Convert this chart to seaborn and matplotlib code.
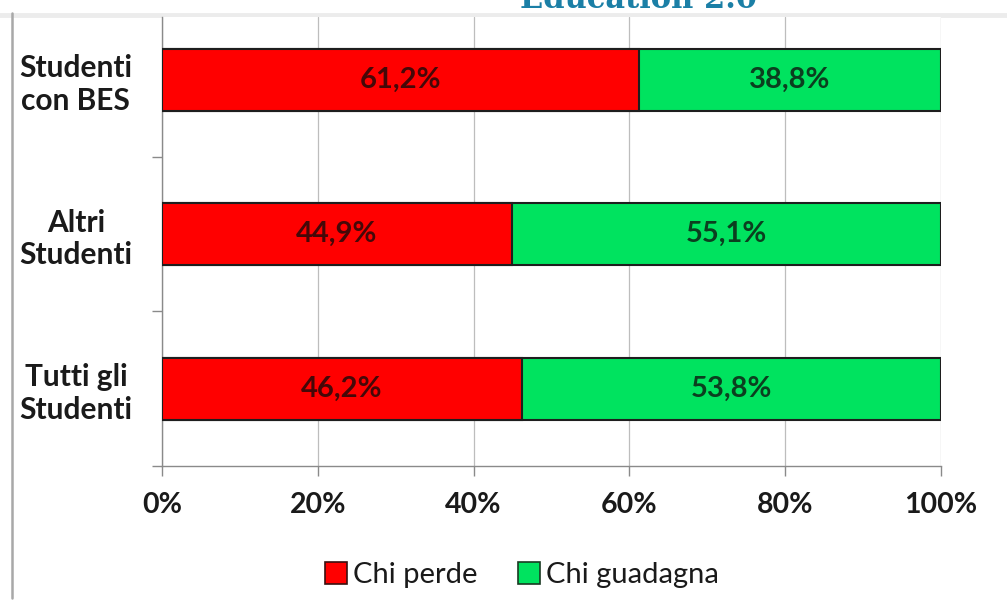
import matplotlib
matplotlib.use("Agg")
import matplotlib.pyplot as plt
import seaborn as sns
import pandas as pd
from matplotlib.patches import Patch
from matplotlib.lines import Line2D

# data
categories = ["Studenti\ncon BES", "Altri\nStudenti", "Tutti gli\nStudenti"]
chi_perde = [61.2, 44.9, 46.2]
chi_guadagna = [38.8, 55.1, 53.8]
xticks = [0, 20, 40, 60, 80, 100]
series_names = ["Chi perde", "Chi guadagna"]

red = "#ff0000"
green = "#00e35f"

df = pd.DataFrame({"gruppo": categories, "perde": chi_perde, "guadagna": chi_guadagna})
df["totale"] = df["perde"] + df["guadagna"]

sns.set_theme(style="white")
plt.rcParams["font.family"] = ["Lato", "DejaVu Sans"]

fig = plt.figure(figsize=(10.07, 6.01), dpi=100)
ax = fig.add_axes([162 / 1007, 1 - 466 / 601, 779 / 1007, 449 / 601])

# stacked bars: full bar in green, "perde" part on top in red
sns.barplot(data=df, y="gruppo", x="totale", color=green, saturation=1, width=0.4,
            edgecolor="#1e1e1e", linewidth=1.5, errorbar=None, ax=ax, zorder=3)
sns.barplot(data=df, y="gruppo", x="perde", color=red, saturation=1, width=0.4,
            edgecolor="#1e1e1e", linewidth=1.5, errorbar=None, ax=ax, zorder=3)

for i, (p, g) in enumerate(zip(chi_perde, chi_guadagna)):
    ax.text(p / 2, i, f"{p:.1f}%".replace(".", ","), ha="center", va="center",
            fontsize=21, fontweight="bold", color="#450808", zorder=4)
    ax.text(p + g / 2, i, f"{g:.1f}%".replace(".", ","), ha="center", va="center",
            fontsize=21, fontweight="bold", color="#0b3f1f", zorder=4)

ax.set_xlim(0, 100)
ax.set_ylim(2.5, -0.406)
ax.set_xticks(xticks)
ax.set_xticklabels([f"{t}%" for t in xticks])
ax.set_xlabel("")
ax.set_ylabel("")

# y tick labels centered, ticks at category boundaries
ax.set_yticks([0, 1, 2])
ax.set_yticklabels(categories, ha="center", multialignment="center")
ax.set_yticks([0.5, 1.5, 2.5], minor=True)
ax.tick_params(axis="y", which="major", length=0, pad=62, labelsize=21.5)
ax.tick_params(axis="y", which="minor", left=True, length=7, width=1, color="#8a8a8a", direction="out")
ax.tick_params(axis="x", which="major", bottom=True, length=7, width=1, color="#8a8a8a",
               direction="out", pad=12, labelsize=20.5)
for lab in ax.get_yticklabels() + ax.get_xticklabels():
    lab.set_fontweight("bold")
    lab.set_color("#1a1a1a")

ax.grid(axis="x", color="#bdbdbd", linewidth=0.9, zorder=0)
ax.grid(axis="y", visible=False)
ax.set_axisbelow(True)
for side in ["top", "right"]:
    ax.spines[side].set_visible(False)
for side in ["left", "bottom"]:
    ax.spines[side].set_color("#8a8a8a")
    ax.spines[side].set_linewidth(1)

handles = [Patch(facecolor=red, edgecolor="#3a1010", linewidth=1.2),
           Patch(facecolor=green, edgecolor="#1a3a22", linewidth=1.2)]
leg = fig.legend(handles, series_names, loc="center", bbox_to_anchor=(522 / 1007, 1 - 575 / 601),
                 ncol=2, frameon=False, fontsize=21, handlelength=0.75, handleheight=0.75,
                 handletextpad=0.2, columnspacing=1.4)
for t in leg.get_texts():
    t.set_color("#1a1a1a")

# page frame bits visible in the screenshot
fig.add_artist(Line2D([0, 1], [1 - 15 / 601] * 2, color="#ececec", linewidth=3.5,
                      transform=fig.transFigure, zorder=0))
fig.add_artist(Line2D([12 / 1007] * 2, [1 - 13 / 601, 1 - 598 / 601], color="#a8a8a8",
                      linewidth=1.8, transform=fig.transFigure))
fig.text(639 / 1007, 1 - 8 / 601, "Education 2.0", ha="center", va="baseline",
         fontsize=22, fontweight="bold", color="#1b7fa6", family="DejaVu Serif")

fig.savefig("out.png", dpi=100)
